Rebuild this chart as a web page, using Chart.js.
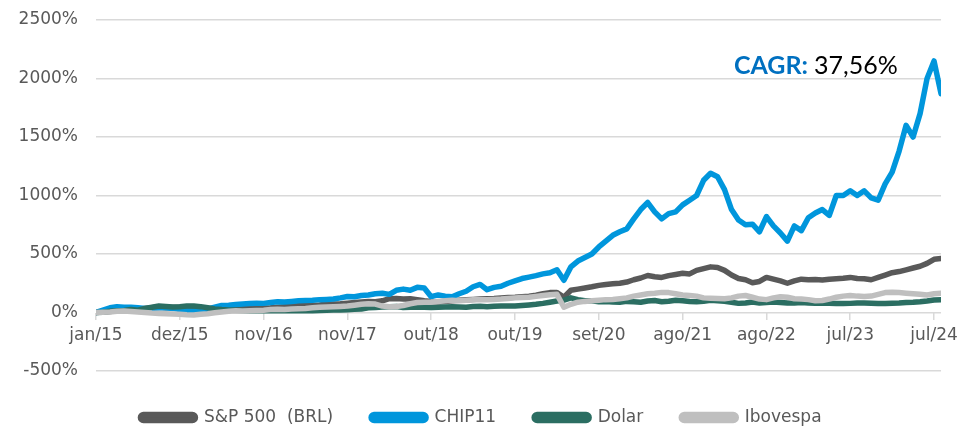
<!DOCTYPE html>
<html>
<head>
<meta charset="utf-8">
<script src="https://cdn.jsdelivr.net/npm/chart.js@4.4.1/dist/chart.umd.min.js"></script>
<style>
  body { margin: 0; background: #ffffff; }
  #wrap { width: 964px; height: 428px; }
</style>
</head>
<body>
<div id="wrap"><canvas id="lineChart" width="964" height="428"></canvas></div>
<script>
// x-axis ticks every 12 points
const tickLabels = ["jan/15", "dez/15", "nov/16", "nov/17", "out/18", "out/19", "set/20", "ago/21", "ago/22", "jul/23", "jul/24"];
const seriesNames = ["S&P 500  (BRL)", "CHIP11", "Dolar", "Ibovespa"];

// accumulated return in %
const sp500 = [0, 5, 8, 15, 20, 25, 30, 35, 40, 45, 40, 42, 45, 40, 35, 35, 30, 32, 30, 28,
  30, 32, 35, 40, 38, 40, 45, 50, 55, 58, 60, 62, 65, 70, 72, 75, 80, 85, 90, 95,
  92, 100, 118, 120, 115, 118, 110, 100, 95, 90, 95, 100, 105, 110, 112, 115, 118, 120, 125, 128,
  130, 135, 140, 148, 160, 170, 172, 130, 190, 200, 210, 220, 232, 240, 245, 250, 260, 280, 295, 316,
  305, 300, 315, 325, 335, 330, 360, 375, 390, 385, 360, 320, 290, 280, 255, 265, 300, 285, 270, 250,
  270, 285, 280, 282, 278, 285, 288, 292, 300, 290, 288, 280, 300, 320, 340, 350, 365, 380, 395, 420,
  455, 462];

const chip11 = [0, 20, 40, 50, 45, 45, 40, 35, 35, 40, 40, 35, 25, 12, 10, 20, 30, 45, 60, 62,
  68, 72, 77, 80, 78, 85, 92, 90, 95, 100, 103, 105, 110, 112, 115, 125, 137, 135, 145, 150,
  160, 165, 155, 190, 200, 190, 215, 210, 135, 150, 140, 135, 160, 182, 220, 240, 195, 215, 225, 250,
  270, 290, 302, 315, 330, 340, 365, 275, 390, 440, 470, 500, 560, 610, 660, 690, 715, 800, 880, 940,
  860, 800, 845, 860, 920, 960, 1000, 1130, 1190, 1160, 1050, 880, 790, 750, 755, 690, 820, 740, 680, 610,
  740, 700, 810, 850, 880, 830, 1000, 1000, 1040, 1000, 1040, 980, 960, 1100, 1200, 1380, 1600, 1500, 1700, 2000,
  2150, 1870];

const dolar = [0, 3, 10, 15, 18, 25, 20, 35, 45, 55, 52, 48, 50, 55, 55, 50, 40, 30, 25, 22,
  20, 18, 15, 18, 15, 14, 16, 14, 15, 16, 16, 15, 18, 20, 22, 22, 24, 28, 30, 40,
  42, 46, 50, 52, 42, 44, 46, 44, 42, 45, 48, 50, 48, 45, 52, 54, 50, 54, 56, 55,
  55, 60, 65, 70, 78, 88, 98, 105, 125, 110, 100, 100, 92, 95, 90, 88, 95, 92, 88, 98,
  102, 92, 96, 104, 100, 94, 92, 96, 104, 100, 96, 88, 78, 82, 90, 82, 86, 90, 86, 82,
  82, 86, 82, 78, 78, 80, 76, 76, 78, 82, 82, 80, 76, 76, 80, 82, 86, 88, 92, 98,
  106, 108];

const ibovespa = [0, 2, 5, 10, 12, 8, 5, 0, -5, -8, -10, -12, -15, -20, -22, -15, -10, -2, 5, 10,
  15, 12, 15, 18, 20, 25, 28, 25, 30, 32, 35, 40, 45, 48, 50, 52, 55, 62, 70, 75,
  72, 55, 50, 52, 60, 75, 85, 88, 90, 95, 100, 105, 100, 105, 108, 110, 108, 112, 115, 120,
  125, 128, 130, 138, 145, 152, 155, 45, 70, 88, 95, 100, 105, 110, 112, 118, 125, 140, 150, 160,
  165, 172, 170, 160, 150, 145, 140, 125, 122, 120, 118, 125, 140, 145, 130, 115, 110, 125, 135, 130,
  118, 115, 110, 100, 103, 115, 130, 140, 145, 140, 137, 140, 155, 170, 174, 170, 165, 160, 155, 150,
  160, 165];

const seriesValues = [sp500, chip11, dolar, ibovespa];
const seriesColors = ["#595959", "#0096dc", "#2b6e62", "#bfbfbf"];
const drawOrder = [3, 2, 1, 0]; // Ibovespa on top, S&P at the back

const indexLabels = chip11.map((_, i) => i);

const cagrPlugin = {
  id: "cagr",
  afterDraw(chart) {
    const ctx = chart.ctx;
    ctx.save();
    ctx.textBaseline = "alphabetic";
    ctx.font = "bold 25px Lato";
    ctx.fillStyle = "#0070c0";
    ctx.fillText("CAGR:", 734, 74);
    const w = ctx.measureText("CAGR: ").width;
    ctx.font = "25px Lato";
    ctx.fillStyle = "#000000";
    ctx.fillText("37,56%", 734 + w, 74);
    ctx.restore();
  }
};

const ctx = document.getElementById("lineChart");

new Chart(ctx, {
  type: "line",
  data: {
    labels: indexLabels,
    datasets: seriesNames.map((name, k) => ({
      label: name,
      data: seriesValues[k],
      borderColor: seriesColors[k],
      backgroundColor: seriesColors[k],
      borderWidth: 5.5,
      pointRadius: 0,
      tension: 0,
      borderJoinStyle: "round",
      borderCapStyle: "round",
      order: drawOrder[k],
    })),
  },
  options: {
    responsive: false,
    animation: false,
    devicePixelRatio: 1,
    layout: { padding: { top: 20, right: 20, bottom: -8, left: 18 } },
    plugins: {
      tooltip: { enabled: false },
      legend: {
        position: "bottom",
        labels: {
          boxWidth: 55,
          boxHeight: 6,
          useBorderRadius: true,
          borderRadius: 3,
          padding: 38,
          color: "#595959",
          font: { family: "DejaVu Sans", size: 17 },
          sort: (a, b) => a.datasetIndex - b.datasetIndex,
        },
      },
    },
    scales: {
      x: {
        type: "linear",
        min: 0,
        max: 121,
        position: { y: 0 },
        afterFit: (scale) => { scale.height = 0; },
        afterBuildTicks: (scale) => { scale.ticks = tickLabels.map((_, k) => ({ value: k * 12 })); },
        grid: { drawOnChartArea: false, drawTicks: true, tickLength: 7, color: "#d9d9d9", lineWidth: 1.5 },
        border: { display: false },
        ticks: {
          autoSkip: false,
          maxRotation: 0,
          padding: 6,
          color: "#595959",
          font: { family: "DejaVu Sans", size: 17 },
          callback: (v) => tickLabels[Math.round(v / 12)],
        },
      },
      y: {
        min: -500,
        max: 2500,
        afterFit: (scale) => {
          scale.width = 78;
          scale.paddingTop = 10;
          scale.paddingBottom = 10;
        },
        grid: { drawTicks: false, color: "#d9d9d9", lineWidth: 1.5 },
        border: { display: false },
        ticks: {
          stepSize: 500,
          padding: 18,
          color: "#595959",
          font: { family: "DejaVu Sans", size: 17 },
          callback: (v) => v + "%",
        },
      },
    },
  },
  plugins: [cagrPlugin],
});
</script>
</body>
</html>
